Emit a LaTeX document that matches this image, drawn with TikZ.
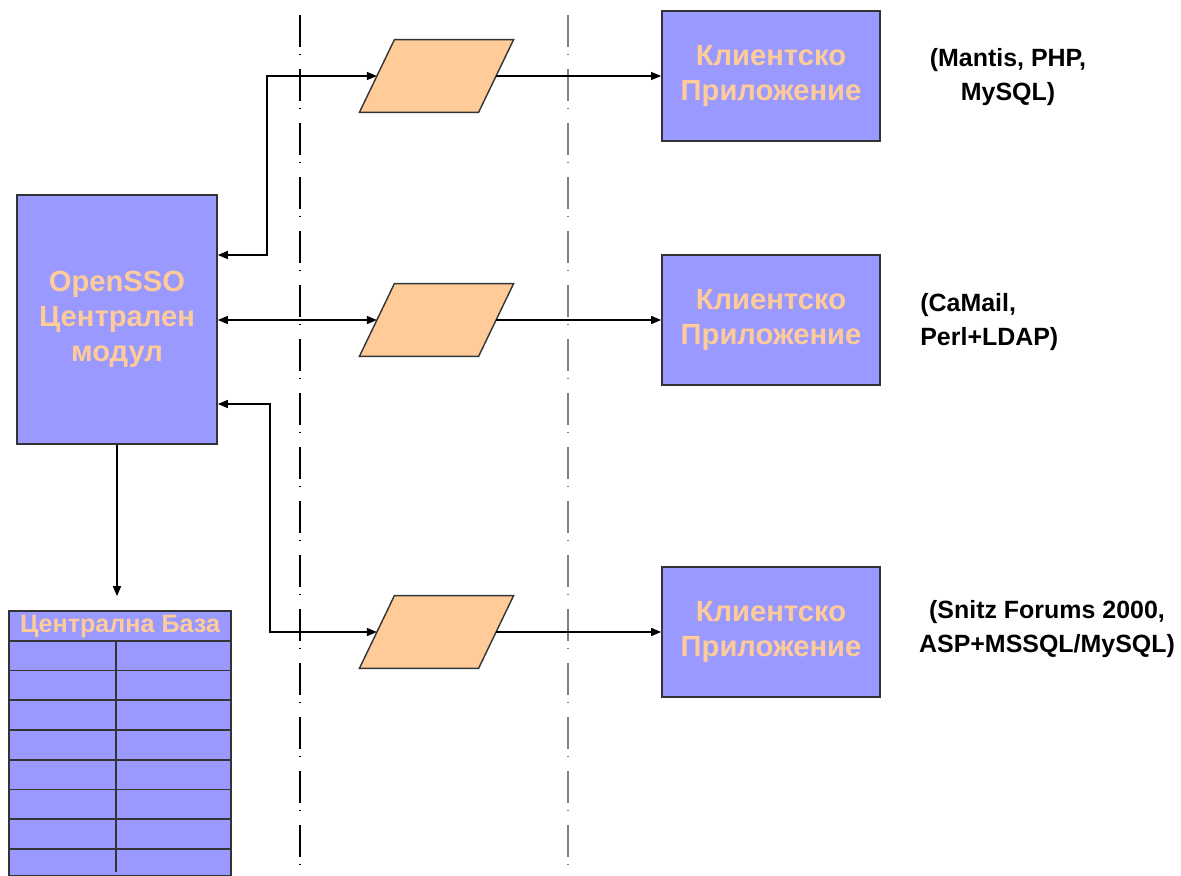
\documentclass[tikz,border=0pt]{standalone}
\usepackage{fontspec}
\setmainfont{Liberation Sans}
\usepackage{xcolor}
\usetikzlibrary{arrows.meta}
\definecolor{boxblue}{HTML}{9999FF}
\definecolor{peach}{HTML}{FFCC99}
\definecolor{edgegray}{HTML}{333333}

\begin{document}
\begin{tikzpicture}[x=0.02cm,y=-0.02cm]
		\useasboundingbox (0,0) rectangle (1181,876);
		\tikzstyle{blok}=[draw=edgegray,line width=1pt,fill=boxblue,text=peach,font=\bfseries\fontsize{16.6}{20}\selectfont,align=center,inner sep=0pt]
		\tikzstyle{kanal}=[minimum width=2.37cm,minimum height=1.44cm,inner sep=0pt]
		\tikzstyle{belejka}=[font=\bfseries\fontsize{14.2}{19.5}\selectfont,inner sep=0pt]
		\tikzstyle{vrazka}=[line width=0.8pt,-{Triangle[length=0.2cm,width=0.16cm]}]
		\tikzstyle{dvoyna}=[line width=0.8pt,{Triangle[length=0.2cm,width=0.16cm]}-{Triangle[length=0.2cm,width=0.16cm]}]
		\tikzstyle{razdel}=[line width=1pt,dash pattern=on 0.64cm off 0.14cm on 0.02cm off 0.28cm]
		% razdelitelni linii
		\draw[razdel,black] (300,15) -- (300,876);
		\draw[razdel,gray] (568,15) -- (568,876);
		% centralen modul i baza
		\node[blok,minimum width=4cm,minimum height=4.98cm] (main) at (117,319.5) {OpenSSO\\Централен\\модул};
		\node[draw=edgegray,fill=boxblue,line width=1pt,minimum width=4.44cm,minimum height=5.3cm] (db) at (120,743.5) {};
		\node[text=peach,font=\bfseries\fontsize{14.3}{16}\selectfont] (dbtitle) at (120,626) {Централна База};
		\foreach \y in {641,670.5,700,730,760,789.5,819,849}
			\draw[edgegray,line width=1pt] (db.west |- 0,\y) -- (db.east |- 0,\y);
		\draw[edgegray,line width=1pt] (116,641) -- (116,872);
		% kanali
		\node[kanal] (p1) at (436.5,76) {};
		\node[kanal] (p2) at (436.5,320) {};
		\node[kanal] (p3) at (436.5,632) {};
		\foreach \p in {p1,p2,p3}
			\draw[edgegray,line width=0.8pt,fill=peach] ([xshift=0.35cm]\p.north west) -- ([xshift=0.35cm]\p.north east)
				-- ([xshift=-0.35cm]\p.south east) -- ([xshift=-0.35cm]\p.south west) -- cycle;
		% klientski prilozhenia
		\node[blok,minimum width=4.36cm,minimum height=2.6cm] (k1) at (771,76) {Клиентско\\Приложение};
		\node[blok,minimum width=4.36cm,minimum height=2.6cm] (k2) at (771,320) {Клиентско\\Приложение};
		\node[blok,minimum width=4.36cm,minimum height=2.6cm] (k3) at (771,632) {Клиентско\\Приложение};
		\node[belejka,align=center] (b1) at (1008,77) {(Mantis, PHP,\\MySQL)};
		\node[belejka,align=left,anchor=west] (b2) at (920,322) {(CaMail,\\Perl+LDAP)};
		\node[belejka,align=center] (b3) at (1047,629) {(Snitz Forums 2000,\\ASP+MSSQL/MySQL)};
		% vrazki
		\draw[dvoyna] (p1.west) -| (267,255) -- (main.east |- 0,255);
		\draw[dvoyna] (main.east |- p2.west) -- (p2.west);
		\draw[dvoyna] (main.east |- 0,404) -- (270,404) |- (p3.west);
		\draw[vrazka] (p1.east) -- (k1.west);
		\draw[vrazka] (p2.east) -- (k2.west);
		\draw[vrazka] (p3.east) -- (k3.west);
		\draw[vrazka,shorten >=0.28cm] (main.south) -- (main.south |- db.north);
\end{tikzpicture}
\end{document}
